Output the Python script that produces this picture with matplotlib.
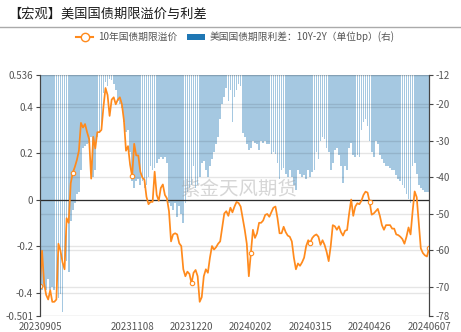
import matplotlib.pyplot as plt
import numpy as np
import pandas as pd
from matplotlib.lines import Line2D
from matplotlib.patches import Patch

plt.rcParams["font.family"] = ["Noto Sans CJK SC", "DejaVu Sans"]
plt.rcParams["axes.unicode_minus"] = False

# trading days (US bond market holidays removed)
holidays = ["2023-10-09", "2023-11-23", "2023-12-25", "2024-01-01",
            "2024-01-15", "2024-02-19", "2024-03-29", "2024-05-27"]
days = pd.bdate_range("2023-09-05", "2024-06-07")
days = days[~days.isin(pd.to_datetime(holidays))]
dates = [d.strftime("%Y%m%d") for d in days]

tick_labels = ["20230905", "20231108", "20231220", "20240202",
               "20240315", "20240426", "20240607"]

# 10Y term premium (left axis)
term_premium = [
    -0.37, -0.22, -0.36, -0.41, -0.43, -0.39, -0.44, -0.44, -0.43, -0.19,
    -0.22, -0.27, -0.30, -0.08, -0.10, 0.07, 0.115, 0.14, 0.17, 0.21,
    0.33, 0.31, 0.325, 0.29, 0.26, 0.09, 0.27, 0.22, 0.29, 0.29,
    0.30, 0.40, 0.48, 0.45, 0.36, 0.43, 0.44, 0.41, 0.43, 0.44,
    0.41, 0.34, 0.21, 0.23, 0.15, 0.10, 0.24, 0.19, 0.19, 0.12,
    0.095, 0.085, 0.012, -0.02, -0.01, -0.01, 0.12, 0.02, -0.005, 0.05,
    0.065, 0.02, 0.005, -0.05, -0.18, -0.15, -0.145, -0.15, -0.188, -0.2,
    -0.30, -0.33, -0.31, -0.32, -0.36, -0.315, -0.303, -0.33, -0.44, -0.42,
    -0.33, -0.30, -0.315, -0.25, -0.20, -0.215, -0.205, -0.19, -0.18, -0.12,
    -0.06, -0.05, -0.07, -0.035, -0.055, -0.03, -0.01, -0.015, -0.03, -0.08,
    -0.13, -0.19, -0.33, -0.23, -0.13, -0.165, -0.145, -0.10, -0.10, -0.09,
    -0.066, -0.062, -0.074, -0.055, -0.035, -0.03, -0.08, -0.145, -0.145, -0.117,
    -0.14, -0.155, -0.16, -0.18, -0.25, -0.30, -0.275, -0.285, -0.27, -0.25,
    -0.20, -0.175, -0.185, -0.165, -0.155, -0.15, -0.16, -0.195, -0.175, -0.195,
    -0.225, -0.265, -0.20, -0.11, -0.115, -0.13, -0.115, -0.14, -0.155, -0.134,
    -0.131, -0.06, 0.0, -0.07, -0.03, -0.016, -0.02, -0.005, 0.02, 0.034,
    0.03, -0.01, -0.065, -0.06, -0.05, -0.04, -0.07, -0.11, -0.13, -0.11,
    -0.11, -0.11, -0.125, -0.125, -0.15, -0.153, -0.16, -0.17, -0.19, -0.16,
    -0.12, -0.15, -0.05, 0.035, 0.01, -0.10, -0.21, -0.23, -0.24, -0.245,
    -0.21,
]

# 10Y-2Y spread in bp (right axis)
spread = [
    -70, -71, -70, -71, -68, -71, -70, -71, -71, -73,
    -72, -77, -63, -63, -66, -52, -49, -47, -44.5, -44,
    -38, -32, -31.5, -31, -30.5, -29, -40, -38, -29, -28,
    -27, -17, -14, -15, -13, -13.5, -14.5, -16, -19, -20,
    -21, -25, -27.5, -27, -33, -41, -43, -41, -40.5, -42,
    -41, -43, -42, -40, -37, -38, -37.5, -36, -35, -34.5,
    -35, -34.5, -36, -47, -48, -49, -47, -51, -48, -50,
    -52.5, -47, -44, -43, -42, -37, -43, -42, -40, -36,
    -35.5, -38, -40, -37, -35, -33, -31, -29, -24, -20,
    -18, -15.5, -19, -16, -25, -18, -16, -14.5, -15, -28,
    -29, -31, -32.5, -32, -30, -30.5, -31, -32.5, -30, -30.5,
    -30, -31, -31, -33.5, -33, -33.5, -36, -40.5, -38, -37.5,
    -39, -40, -38, -40, -42, -43.5, -38, -39, -40, -39.5,
    -40.5, -38, -40, -38.5, -38, -33, -35, -30, -29, -29.5,
    -32, -33, -38, -36, -32.5, -32, -34, -37, -41.5, -37,
    -38, -32, -30.5, -34, -34.5, -34, -34.5, -27, -25, -24,
    -26, -30, -33, -34.5, -30, -31, -34, -35, -36, -37,
    -37, -37.5, -38, -38, -39.5, -40.5, -41, -42, -43, -44.5,
    -46, -47, -37, -36, -39, -42, -43, -43.5, -44, -44,
    -44,
]

left_ticks = [-0.501, -0.4, -0.2, 0, 0.2, 0.4, 0.536]
left_ticklabels = ["-0.501", "-0.4", "-0.2", "0", "0.2", "0.4", "0.536"]
right_ticks = [-78, -70, -60, -50, -40, -30, -20, -12]

orange = "#ff8a1c"
blue = "#1f77b4"
W, H = 461, 332

fig = plt.figure(figsize=(W / 100, H / 100), dpi=100)
ax = fig.add_axes([40 / W, 1 - 316 / H, 389 / W, 241 / H])
ax2 = ax.twinx()

x = np.arange(len(dates))
sp = np.array(spread)
ax2.bar(x, sp - right_ticks[-1], bottom=right_ticks[-1], width=0.82,
        color=blue, alpha=0.4, linewidth=0)
ax2.set_ylim(right_ticks[0], right_ticks[-1])
ax2.set_yticks(right_ticks)
ax2.set_yticklabels([str(t) for t in right_ticks])

ax.set_zorder(ax2.get_zorder() + 1)
ax.patch.set_visible(False)
marks = [0] + list(range(16, len(dates), 29))
ax.plot(x, term_premium, color=orange, lw=1.25, marker="o", markevery=marks,
        markersize=3.2, markerfacecolor="white", markeredgewidth=0.8,
        solid_joinstyle="round")
ax.axhline(0, color="#333333", lw=0.9, zorder=1)
ax.set_ylim(left_ticks[0], left_ticks[-1])
ax.set_yticks(left_ticks)
ax.set_yticklabels(left_ticklabels)
ax.set_xlim(0, len(dates) - 1)
ax.set_xticks([dates.index(d) for d in tick_labels])
ax.set_xticklabels(tick_labels)

for a in (ax, ax2):
    a.grid(axis="y", color="black", alpha=0.1, lw=1)
    a.tick_params(axis="y", labelsize=7, colors="#555555", length=3,
                  width=0.8, pad=2)
    a.tick_params(axis="x", labelsize=7, colors="#555555", length=0, pad=4)
    for s in ("top", "bottom"):
        a.spines[s].set_visible(False)
    a.spines["left"].set_color("#444444")
    a.spines["right"].set_color("#444444")
ax.tick_params(axis="y", color="#444444")
ax2.tick_params(axis="y", color="#444444")

ax.text(0.51, 0.525, "紫金天风期货", transform=ax.transAxes, ha="center",
        va="center", fontsize=14, color="#999999", alpha=0.4)

fig.text(8 / W, 1 - 14 / H, "【宏观】美国国债期限溢价与利差", fontsize=9.5,
         color="#1a1a1a", va="center", ha="left")
fig.add_artist(Line2D([0, 1], [1 - 27 / H] * 2, transform=fig.transFigure,
                      color="#aaaaaa", lw=1))

handles = [
    Line2D([], [], color=orange, lw=1.5, marker="o", markersize=6,
           markerfacecolor="white", markeredgewidth=1),
    Patch(facecolor=blue, edgecolor="none"),
]
fig.legend(handles, ["10年国债期限溢价", "美国国债期限利差：10Y-2Y（单位bp）(右)"],
           loc="center", bbox_to_anchor=(0.51, 1 - 37 / H), ncol=2,
           frameon=False, fontsize=7, labelcolor="#555555",
           handlelength=1.8, handletextpad=0.5, columnspacing=1.0)

fig.savefig("out.png", dpi=100, facecolor="white")
